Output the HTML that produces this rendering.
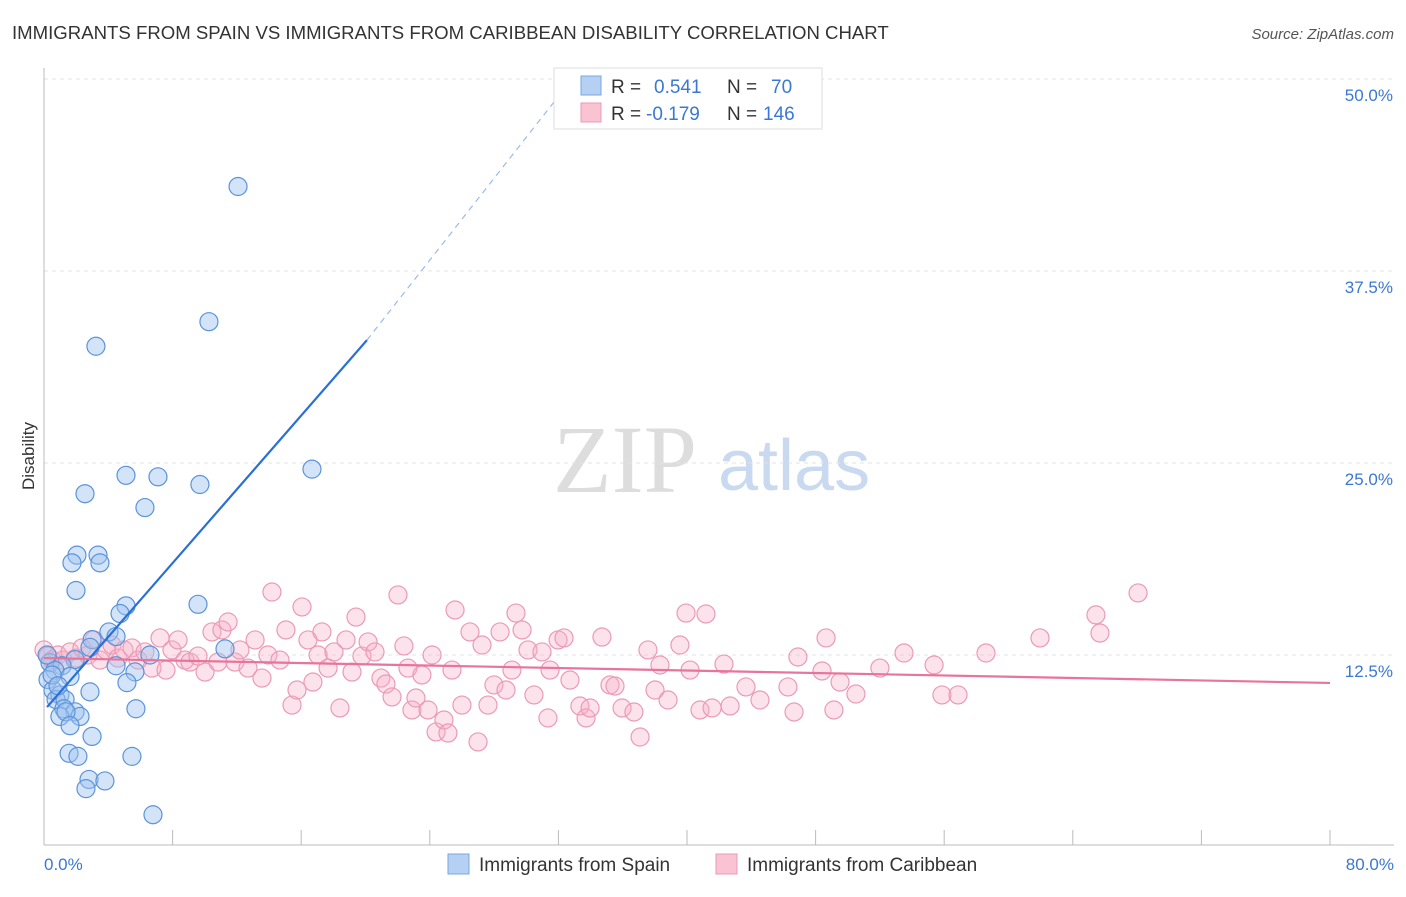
<!DOCTYPE html>
<html><head><meta charset="utf-8"><style>
body{margin:0;background:#fff;font-family:"Liberation Sans",sans-serif}
svg text{font-family:"Liberation Sans",sans-serif}
</style></head><body>
<svg width="1406" height="892" viewBox="0 0 1406 892" xmlns="http://www.w3.org/2000/svg">
<text x="12" y="39" font-size="18.6" fill="#333">IMMIGRANTS FROM SPAIN VS IMMIGRANTS FROM CARIBBEAN DISABILITY CORRELATION CHART</text>
<text x="1394" y="39" font-size="15" fill="#555" font-style="italic" text-anchor="end">Source: ZipAtlas.com</text>
<g>
<text x="553" y="492" font-size="96" fill="#ddd" style="font-family:'Liberation Serif',serif">ZIP</text>
<text x="718" y="490" font-size="72" fill="#c9daf0">atlas</text>
</g>
<g id="grid"></g>
<g id="axes"></g>
<text transform="translate(34,456) rotate(-90)" font-size="17" fill="#333" text-anchor="middle">Disability</text>
<g id="pink"></g>
<g id="blue"></g>
<g id="lines"></g>
<g>
<rect x="554" y="68" width="268" height="61" fill="#fff" stroke="#ddd"/>
<rect x="581" y="76" width="20" height="19" fill="#b5d0f3" stroke="#7aa7e0"/>
<rect x="581" y="103" width="20" height="19" fill="#f9c3d4" stroke="#eb9ab5"/>
<text x="611" y="93" font-size="19" fill="#333">R =</text>
<text x="654" y="93" font-size="19" fill="#3a78d4">0.541</text>
<text x="727" y="93" font-size="19" fill="#333">N =</text>
<text x="771" y="93" font-size="19" fill="#3a78d4">70</text>
<text x="611" y="120" font-size="19" fill="#333">R =</text>
<text x="646" y="120" font-size="19" fill="#3a78d4">-0.179</text>
<text x="727" y="120" font-size="19" fill="#333">N =</text>
<text x="763" y="120" font-size="19" fill="#3a78d4">146</text>
</g>
<g>
<rect x="448" y="854" width="21" height="20" fill="#b5d0f3" stroke="#7aa7e0"/>
<text x="479" y="871" font-size="19" fill="#333">Immigrants from Spain</text>
<rect x="716" y="854" width="21" height="20" fill="#f9c3d4" stroke="#eb9ab5"/>
<text x="747" y="871" font-size="19" fill="#333">Immigrants from Caribbean</text>
</g>
</svg>
<script>
const xTicks=[0,8,16,24,32,40,48,56,64,72,80];
const yTicks=[12.5,25,37.5,50];
const yTickLabels=["12.5%","25.0%","37.5%","50.0%"];
const xEndLabels=["0.0%","80.0%"];
const spainX=[12.07,10.26,3.23,16.67,5.10,7.09,2.55,9.70,6.28,2.05,3.36,1.74,3.48,1.99,9.58,5.10,4.73,4.04,4.48,2.99,11.26,2.86,6.59,1.93,0.37,1.12,4.48,0.68,5.66,1.62,0.25,5.16,0.56,0.99,2.86,0.75,1.31,1.24,1.93,0.99,2.24,1.37,5.72,1.62,2.99,1.56,2.11,5.47,2.80,3.79,2.61,6.78,0.19,0.50,0.87];
const spainY=[43.0,34.2,32.6,24.6,24.2,24.1,23.0,23.6,22.1,19.0,19.0,18.5,18.5,16.7,15.8,15.7,15.2,14.0,13.7,13.5,12.9,13.0,12.5,12.2,12.0,11.8,11.8,11.5,11.4,11.1,10.9,10.7,10.2,9.9,10.1,9.6,9.6,9.0,8.8,8.5,8.5,8.8,9.0,7.9,7.2,6.1,5.9,5.9,4.4,4.3,3.8,2.1,12.5,11.2,10.5];
const caribX=[0,0.25,0.5,0.87,1.18,1.62,1.99,2.36,2.74,3.11,3.48,3.86,4.23,4.6,4.98,5.47,5.85,6.28,6.72,7.22,7.59,7.96,8.34,8.77,9.08,9.58,10.02,10.45,10.82,11.07,11.45,11.88,12.19,12.69,13.13,13.56,13.93,14.18,14.68,15.05,15.43,15.74,16.05,16.42,16.73,17.05,17.29,17.67,18.04,18.41,18.79,19.16,19.41,19.78,20.16,20.59,20.96,21.27,21.65,22.02,22.39,22.64,22.89,23.14,23.51,23.89,24.14,24.39,24.88,25.13,25.38,25.57,26.0,26.5,27.0,27.25,27.62,27.99,28.37,28.74,29.11,29.36,29.74,30.11,30.48,30.98,31.35,31.48,31.98,32.35,32.72,33.34,33.72,33.97,34.71,35.21,35.52,35.96,36.7,37.08,37.57,38.01,38.32,38.82,39.56,39.94,40.19,40.81,41.18,41.56,42.3,42.68,43.67,44.54,46.28,46.66,46.9,48.4,48.65,49.14,49.52,50.51,52.0,53.5,55.37,55.86,56.86,58.6,61.96,65.44,65.69,68.06];
const caribY=[12.83,12.43,12.17,12.5,12.17,12.7,12.3,12.96,12.5,13.48,12.17,12.83,13.15,12.3,12.83,12.96,12.17,12.7,11.65,13.61,11.52,12.83,13.48,12.17,12.04,12.43,11.39,14.0,12.04,14.13,14.65,12.04,12.83,11.65,13.48,11.0,12.5,16.6,12.17,14.13,9.24,10.22,15.63,13.48,10.74,12.5,14.0,11.65,12.7,9.05,13.48,11.39,14.97,12.43,13.35,12.7,11.0,10.61,9.77,16.41,13.09,11.65,8.92,9.7,11.2,8.92,12.5,7.49,8.27,7.42,11.52,15.43,9.24,14.0,6.84,13.15,9.24,10.55,14.0,10.22,11.52,15.23,14.13,12.83,9.9,12.7,8.4,11.52,13.48,13.61,10.87,9.18,8.4,9.05,13.67,10.55,10.48,9.05,8.79,7.16,12.83,10.22,11.85,9.57,13.15,15.23,11.52,8.92,15.17,9.05,11.91,9.18,10.42,9.57,10.42,8.79,12.37,11.46,13.61,8.92,10.74,9.96,11.65,12.63,11.85,9.9,9.9,12.63,13.61,15.11,13.93,16.54];
const spainTrend=[[0.19,9.11],[20.09,33.0],[31.8,48.6]];
const caribTrend=[[0,12.3],[80,10.68]];

const NS="http://www.w3.org/2000/svg";
const X=v=>44+v*(1286/80);
const Y=v=>847-v*15.36;
function mk(tag,attrs,parent){const e=document.createElementNS(NS,tag);for(const k in attrs)e.setAttribute(k,attrs[k]);document.getElementById(parent).appendChild(e);return e;}
yTicks.forEach((t,i)=>{
  const g=mk('line',{x1:44,x2:1394,y1:Y(t),y2:Y(t),stroke:'#e3e3e3','stroke-dasharray':'4,4'},'grid');
  
  
  const tx=mk('text',{x:1393,y:Y(t)+22,'font-size':17,fill:'#3a78d4','text-anchor':'end'},'axes');
  tx.textContent=yTickLabels[i];
  
  
});
const topLine=mk('line',{x1:44,x2:1394,y1:79,y2:79,stroke:'#e3e3e3','stroke-dasharray':'4,4'},'grid');


const ya=mk('line',{x1:44,x2:44,y1:68,y2:845,stroke:'#bbb'},'axes');


const xa=mk('line',{x1:44,x2:1394,y1:845,y2:845,stroke:'#bbb'},'axes');


xTicks.forEach(t=>{
  const l=mk('line',{x1:X(t),x2:X(t),y1:830,y2:845,stroke:'#bbb'},'axes');
  
  
});
[[xTicks[0],'start',44],[xTicks[xTicks.length-1],'end',1394]].forEach((d,i)=>{
  const tx=mk('text',{x:d[2],y:870,'font-size':17,fill:'#3a78d4','text-anchor':d[1]},'axes');
  tx.textContent=xEndLabels[i];
  
  
});
caribX.forEach((x,i)=>{
  const c=mk('circle',{cx:X(x),cy:Y(caribY[i]),r:9,fill:'rgba(246,175,198,0.35)',stroke:'#eb9ab5','stroke-width':1.2},'pink');
  
  
});
spainX.forEach((x,i)=>{
  const c=mk('circle',{cx:X(x),cy:Y(spainY[i]),r:9,fill:'rgba(160,196,240,0.45)',stroke:'#5b93d9','stroke-width':1.2},'blue');
  
  
});
const b1=mk('line',{x1:X(spainTrend[0][0]),y1:Y(spainTrend[0][1]),x2:X(spainTrend[1][0]),y2:Y(spainTrend[1][1]),stroke:'#2a6fd6','stroke-width':2.2},'lines');


const b2=mk('line',{x1:X(spainTrend[1][0]),y1:Y(spainTrend[1][1]),x2:X(spainTrend[2][0]),y2:Y(spainTrend[2][1]),stroke:'#9bbbe8','stroke-width':1.2,'stroke-dasharray':'6,5'},'lines');


const p1=mk('line',{x1:X(caribTrend[0][0]),y1:Y(caribTrend[0][1]),x2:X(caribTrend[1][0]),y2:Y(caribTrend[1][1]),stroke:'#e8739b','stroke-width':2.2},'lines');


</script>
</body></html>
